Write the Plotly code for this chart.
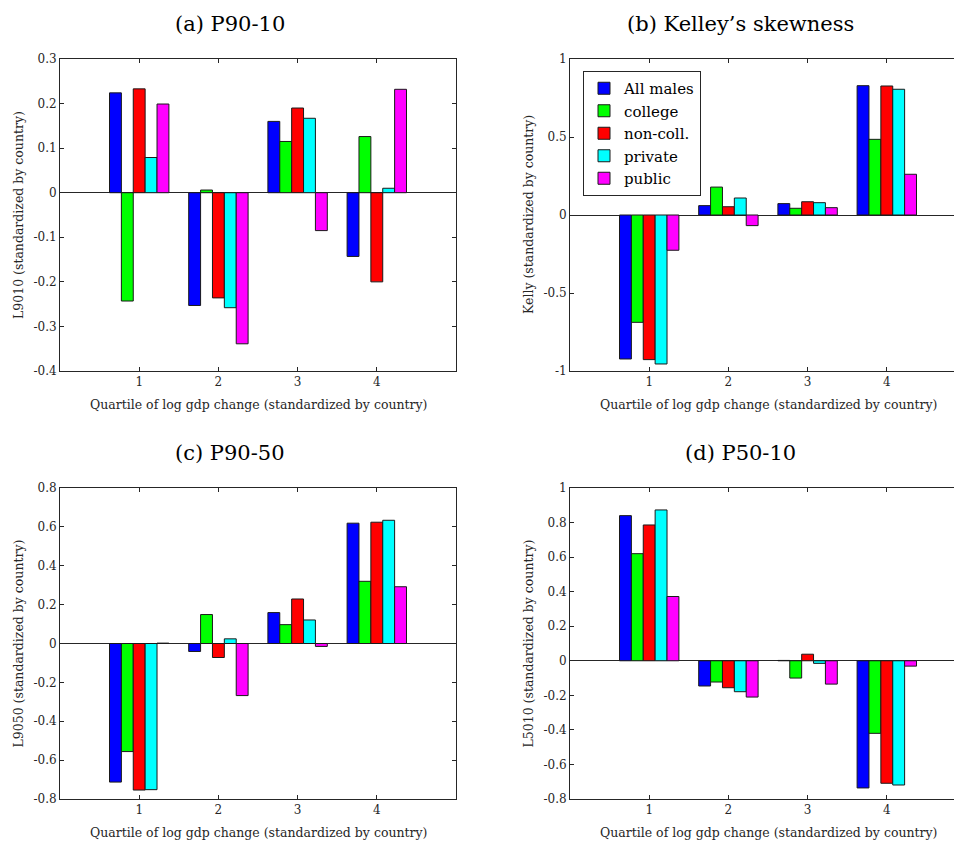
import plotly.graph_objects as go

quartiles = [1, 2, 3, 4]
series_names = ["All males", "college", "non-coll.", "private", "public"]
series_colors = ["#0000FF", "#00FF00", "#FF0000", "#00FFFF", "#FF00FF"]

# (a) P90-10
p9010_all = [0.224, -0.253, 0.160, -0.143]
p9010_college = [-0.243, 0.006, 0.115, 0.126]
p9010_noncoll = [0.233, -0.236, 0.190, -0.200]
p9010_private = [0.079, -0.258, 0.167, 0.010]
p9010_public = [0.199, -0.339, -0.085, 0.232]

# (b) Kelley's skewness
kelly_all = [-0.923, 0.060, 0.073, 0.829]
kelly_college = [-0.688, 0.179, 0.043, 0.485]
kelly_noncoll = [-0.927, 0.053, 0.085, 0.827]
kelly_private = [-0.955, 0.109, 0.079, 0.806]
kelly_public = [-0.226, -0.068, 0.047, 0.261]

# (c) P90-50
p9050_all = [-0.713, -0.041, 0.159, 0.619]
p9050_college = [-0.556, 0.149, 0.097, 0.320]
p9050_noncoll = [-0.754, -0.072, 0.229, 0.624]
p9050_private = [-0.752, 0.024, 0.121, 0.634]
p9050_public = [0.002, -0.268, -0.015, 0.292]

# (d) P50-10
p5010_all = [0.840, -0.146, 0.002, -0.736]
p5010_college = [0.620, -0.123, -0.100, -0.420]
p5010_noncoll = [0.786, -0.156, 0.038, -0.709]
p5010_private = [0.873, -0.179, -0.015, -0.719]
p5010_public = [0.372, -0.210, -0.135, -0.031]

titles = ["(a) P90-10", "(b) Kelley\u2019s skewness", "(c) P90-50", "(d) P50-10"]
ylabels = ["L9010 (standardized by country)", "Kelly (standardized by country)",
           "L9050 (standardized by country)", "L5010 (standardized by country)"]
xlabel = "Quartile of log gdp change (standardized by country)"

yticks_a = [-0.4, -0.3, -0.2, -0.1, 0, 0.1, 0.2, 0.3]
yticklabels_a = ["-0.4", "-0.3", "-0.2", "-0.1", "0", "0.1", "0.2", "0.3"]
yticks_b = [-1, -0.5, 0, 0.5, 1]
yticklabels_b = ["-1", "-0.5", "0", "0.5", "1"]
yticks_c = [-0.8, -0.6, -0.4, -0.2, 0, 0.2, 0.4, 0.6, 0.8]
yticklabels_c = ["-0.8", "-0.6", "-0.4", "-0.2", "0", "0.2", "0.4", "0.6", "0.8"]
yticks_d = [-0.8, -0.6, -0.4, -0.2, 0, 0.2, 0.4, 0.6, 0.8, 1]
yticklabels_d = ["-0.8", "-0.6", "-0.4", "-0.2", "0", "0.2", "0.4", "0.6", "0.8", "1"]
xticklabels = ["1", "2", "3", "4"]

panels = [
    [p9010_all, p9010_college, p9010_noncoll, p9010_private, p9010_public],
    [kelly_all, kelly_college, kelly_noncoll, kelly_private, kelly_public],
    [p9050_all, p9050_college, p9050_noncoll, p9050_private, p9050_public],
    [p5010_all, p5010_college, p5010_noncoll, p5010_private, p5010_public],
]
yranges = [[-0.4, 0.3], [-1, 1], [-0.8, 0.8], [-0.8, 1]]
ytickvals = [yticks_a, yticks_b, yticks_c, yticks_d]
yticktexts = [yticklabels_a, yticklabels_b, yticklabels_c, yticklabels_d]

W, H = 954, 841
FONT = "DejaVu Serif"
AX = "#262626"

# axes pixel boxes (left, right, top, bottom)
boxes = [(60, 456, 59, 371), (570, 954, 59, 371),
         (60, 456, 488, 799), (570, 954, 488, 799)]
px_per_unit = 79.2

fig = go.Figure()
layout = dict(width=W, height=H,
              margin=dict(l=0, r=0, t=0, b=0, pad=0, autoexpand=False),
              template="none",
              paper_bgcolor="white", plot_bgcolor="white",
              barmode="group", bargap=0.25, bargroupgap=0.0,
              font=dict(family=FONT, color=AX),
              annotations=[])

for i, data in enumerate(panels):
    k = i + 1
    xa = "x" if k == 1 else f"x{k}"
    ya = "y" if k == 1 else f"y{k}"
    for j, vals in enumerate(data):
        fig.add_trace(go.Bar(
            x=quartiles, y=vals, name=series_names[j],
            marker=dict(color=series_colors[j], line=dict(color="#1a1a1a", width=1)),
            xaxis=xa, yaxis=ya, legendgroup=series_names[j],
            showlegend=(i == 0), offsetgroup=str(j)))
    l, r, t, b = boxes[i]
    right_side = (i % 2 == 1)
    xmax = (r - l) / px_per_unit
    layout["xaxis" if k == 1 else f"xaxis{k}"] = dict(
        domain=[l / W, r / W], range=[0, xmax], anchor=ya, automargin=False,
        tickvals=quartiles, ticktext=xticklabels,
        ticks="inside", ticklen=4, tickcolor=AX, tickwidth=1,
        showline=True, linecolor=AX, linewidth=1, mirror="ticks",
        showgrid=False, zeroline=False,
        tickfont=dict(family=FONT, size=12, color=AX))
    layout["yaxis" if k == 1 else f"yaxis{k}"] = dict(
        domain=[1 - b / H, 1 - t / H], range=yranges[i], anchor=xa, automargin=False,
        tickvals=ytickvals[i], ticktext=yticktexts[i],
        ticks="inside", ticklen=4, tickcolor=AX, tickwidth=1,
        showline=True, linecolor=AX, linewidth=1,
        mirror=(False if right_side else "ticks"),
        showgrid=False, zeroline=True, zerolinecolor=AX, zerolinewidth=1,
        tickfont=dict(family=FONT, size=12, color=AX))
    # titles
    tx = 230 if not right_side else 740
    ty = 24 if i < 2 else 453
    layout["annotations"].append(dict(
        text=titles[i], x=tx / W, y=1 - ty / H, xref="paper", yref="paper",
        xanchor="center", yanchor="middle", showarrow=False,
        font=dict(family=FONT, size=21, color="black")))
    # x label
    xl_cx = (l + (l + 5 * px_per_unit)) / 2
    layout["annotations"].append(dict(
        text=xlabel, x=xl_cx / W, y=1 - (b + 33) / H, xref="paper", yref="paper",
        xanchor="center", yanchor="middle", showarrow=False,
        font=dict(family=FONT, size=12.5, color=AX)))
    # y label
    layout["annotations"].append(dict(
        text=ylabels[i], x=(l - 42) / W, y=1 - ((t + b) / 2) / H,
        xref="paper", yref="paper", textangle=-90,
        xanchor="center", yanchor="middle", showarrow=False,
        font=dict(family=FONT, size=12.5, color=AX)))

layout["legend"] = dict(
    x=583 / W, y=1 - 71 / H, xanchor="left", yanchor="top",
    bgcolor="white", bordercolor=AX, borderwidth=1,
    font=dict(family=FONT, size=15, color="black"),
    tracegroupgap=0, itemwidth=30)

fig.update_layout(**layout)
fig.write_html("out.html")
